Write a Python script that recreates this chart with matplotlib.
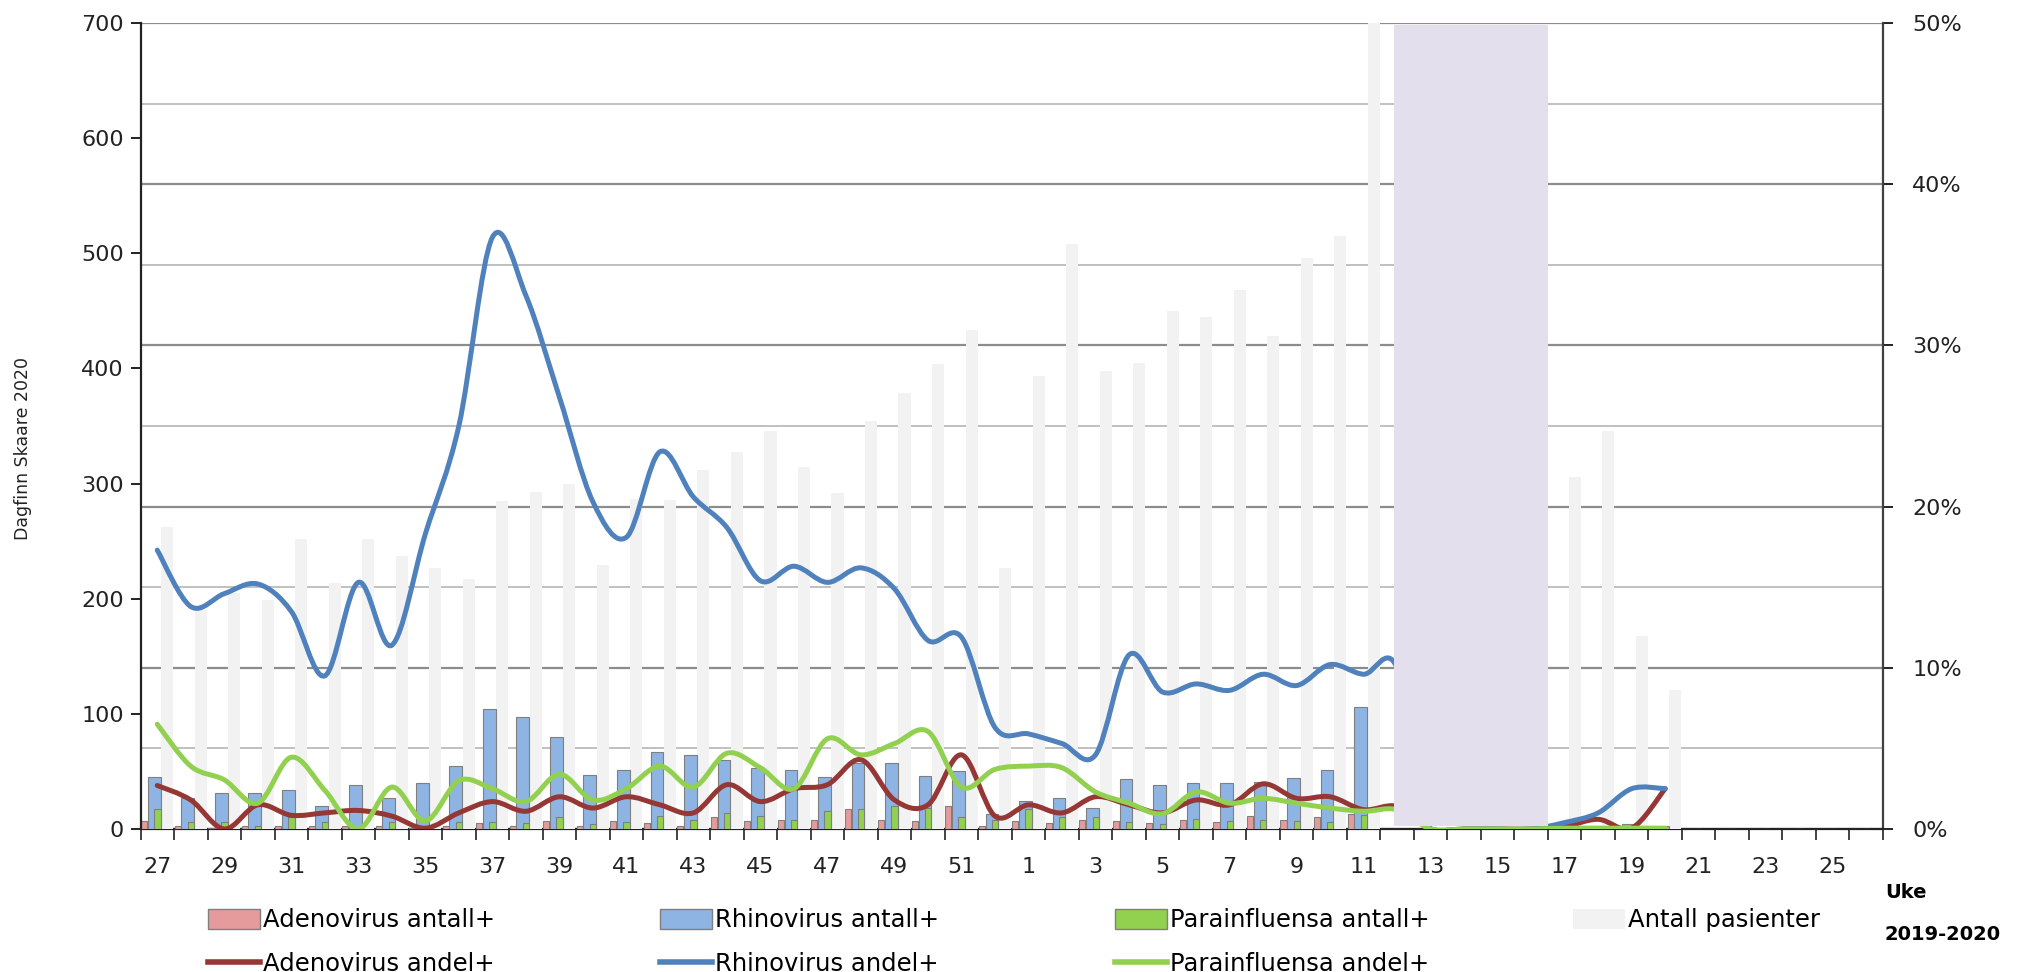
import numpy as np
import matplotlib
matplotlib.use("Agg")
import matplotlib.pyplot as plt
from matplotlib.path import Path
from matplotlib.patches import PathPatch, Patch
from matplotlib.lines import Line2D
from matplotlib.ticker import MultipleLocator, PercentFormatter

# uke 27 (2019) til uke 26 (2020)
uker = list(range(27, 53)) + list(range(1, 27))

adeno_antall = [7, 3, 1, 3, 3, 3, 3, 3, 1, 3, 5, 3, 7, 3, 7, 5, 3, 10, 7, 8, 8, 17, 8, 7, 20, 3,
                7, 5, 8, 7, 5, 8, 6, 11, 8, 10, 13, 0, 0, 0, 0, 0, 0, 2, 0, 3, 0, 0, 0, 0, 0, 0]
rhino_antall = [45, 27, 31, 31, 34, 20, 38, 27, 40, 55, 104, 97, 80, 47, 51, 67, 64, 60, 53, 51, 45, 57, 57, 46, 50, 13,
                24, 27, 18, 43, 38, 40, 40, 41, 44, 51, 106, 0, 0, 0, 0, 0, 1, 3, 4, 3, 0, 0, 0, 0, 0, 0]
para_antall = [17, 6, 6, 3, 10, 6, 1, 6, 0, 6, 6, 5, 10, 4, 6, 11, 8, 14, 11, 8, 16, 17, 20, 18, 10, 8,
               17, 10, 10, 6, 4, 9, 7, 8, 7, 6, 12, 0, 0, 0, 0, 0, 0, 0, 0, 0, 0, 0, 0, 0, 0, 0]
antall_pasienter = [262, 190, 205, 199, 252, 214, 252, 237, 227, 217, 285, 293, 300, 229, 287, 286, 312, 327, 346, 314,
                    292, 354, 379, 404, 433, 227, 393, 508, 398, 405, 450, 445, 468, 428, 496, 515, 760, 0,
                    0, 0, 0, 0, 306, 346, 168, 121, 0, 0, 0, 0, 0, 0]

nan = np.nan
adeno_andel = [2.7, 1.8, 0.0, 1.5, 0.85, 1.0, 1.15, 0.8, 0.05, 1.0, 1.7, 1.1, 2.0, 1.3, 2.0, 1.5, 1.0, 2.75, 1.7, 2.5,
               2.75, 4.3, 1.8, 1.5, 4.6, 0.8, 1.5, 1.0, 2.0, 1.5, 1.0, 1.8, 1.5, 2.8, 1.9, 2.0, 1.2, 1.4,
               0, 0, 0, 0, 0.15, 0.6, 0.05, 2.5, nan, nan, nan, nan, nan, nan]
rhino_andel = [17.3, 13.8, 14.6, 15.2, 13.5, 9.5, 15.3, 11.4, 18.3, 25.0, 36.7, 33.1, 26.8, 20.3, 18.1, 23.4, 20.6,
               18.7, 15.4, 16.3, 15.3, 16.2, 14.9, 11.7, 11.9, 6.3, 5.9, 5.3, 4.6, 10.8, 8.5, 9.0, 8.6, 9.6, 8.9,
               10.2, 9.6, 10.0, 0, 0, 0, 0, 0.4, 1.0, 2.5, 2.5, nan, nan, nan, nan, nan, nan]
para_andel = [6.5, 3.9, 3.05, 1.6, 4.45, 2.4, 0.0, 2.6, 0.5, 3.0, 2.5, 1.7, 3.4, 1.8, 2.5, 3.9, 2.6, 4.7, 3.8, 2.5,
              5.6, 4.6, 5.3, 6.05, 2.6, 3.7, 3.9, 3.8, 2.3, 1.6, 0.95, 2.3, 1.6, 1.9, 1.6, 1.3, 1.1, 1.2,
              0, 0, 0, 0, 0.05, 0.05, 0.05, 0.05, nan, nan, nan, nan, nan, nan]

# skravert periode (uke 12-16)
stengt_fra, stengt_til = 36.9, 41.5

c_adeno_bar, c_rhino_bar, c_para_bar, c_pas = "#E59B9B", "#8DB4E2", "#92D050", "#F2F2F2"
c_adeno, c_rhino, c_para = "#953735", "#4F81BD", "#92D050"
kant = "#7F7F7F"
tekst = "#222222"


def glatt_linje(ax, x, y, farge):
    # Excel-lignende glattet linje (Bezier gjennom punktene)
    y = np.asarray(y, dtype=float)
    ok = ~np.isnan(y)
    pts = np.column_stack([np.asarray(x, dtype=float)[ok], y[ok]])
    n = len(pts)
    verts = [pts[0]]
    codes = [Path.MOVETO]
    for i in range(n - 1):
        p0 = pts[i - 1] if i > 0 else pts[i]
        p1, p2 = pts[i], pts[i + 1]
        p3 = pts[i + 2] if i + 2 < n else pts[i + 1]
        verts += [p1 + (p2 - p0) / 6, p2 - (p3 - p1) / 6, p2]
        codes += [Path.CURVE4] * 3
    ax.add_patch(PathPatch(Path(verts, codes), fill=False, edgecolor=farge, lw=3.6,
                           capstyle="round", joinstyle="round", zorder=3))


fig = plt.figure(figsize=(20.38, 9.72), dpi=100)
pos = [140.5 / 2038, 143 / 972, 1742.5 / 2038, 806 / 972]
x = np.arange(len(uker))

# nederste akse: prosent-skala, rutenett og x-akse
ax_pct = fig.add_axes(pos)
ax = ax_pct.twinx()      # antall (venstre)
ax_l = ax_pct.twinx()    # andel-linjer

ax_pct.set_xlim(-0.5, 51.5)
ax_pct.set_ylim(0, 0.5)
ax_pct.yaxis.set_major_locator(MultipleLocator(0.1))
ax_pct.yaxis.set_minor_locator(MultipleLocator(0.05))
ax_pct.yaxis.set_major_formatter(PercentFormatter(1.0, decimals=0))
ax_pct.grid(True, axis="y", which="major", color="#8C8C8C", lw=1.6)
ax_pct.grid(True, axis="y", which="minor", color="#C0C0C0", lw=1.4)
ax_pct.set_xticks(x[::2])
ax_pct.set_xticklabels([str(u) for u in uker[::2]])
ax_pct.set_xticks(np.arange(-0.5, 52, 1), minor=True)
ax_pct.tick_params(axis="x", which="major", length=0, pad=20, labelsize=16, colors=tekst)
ax_pct.tick_params(axis="x", which="minor", direction="out", length=8, width=1.2, color=tekst)
for s in ["top", "left"]:
    ax_pct.spines[s].set_visible(False)
ax_pct.spines["right"].set_color("#404040")
ax_pct.spines["right"].set_linewidth(1.6)
ax_pct.spines["bottom"].set_color(tekst)
ax_pct.spines["bottom"].set_linewidth(1.6)

ax.patch.set_visible(False)
ax.set_ylim(0, 700)
ax.set_yticks(range(0, 701, 100))
for s in ["top", "right", "bottom"]:
    ax.spines[s].set_visible(False)
ax.spines["left"].set_color(tekst)
ax.spines["left"].set_linewidth(1.6)

ax.bar(x - 0.39, adeno_antall, width=0.18, color=c_adeno_bar, edgecolor=kant, lw=0.8, zorder=2)
ax.bar(x - 0.09, rhino_antall, width=0.38, color=c_rhino_bar, edgecolor=kant, lw=0.8, zorder=2)
ax.bar(x + 0.005, para_antall, width=0.19, color=c_para_bar, edgecolor=kant, lw=0.8, zorder=3)
ax.bar(x + 0.30, antall_pasienter, width=0.36, color=c_pas, lw=0, zorder=1)
ax.set_xlim(-0.5, 51.5)

ax_l.patch.set_visible(False)
ax_l.set_ylim(0, 0.5)
ax_l.set_xlim(-0.5, 51.5)
ax_l.axis("off")
glatt_linje(ax_l, x, np.array(adeno_andel) / 100, c_adeno)
glatt_linje(ax_l, x, np.array(rhino_andel) / 100, c_rhino)
glatt_linje(ax_l, x, np.array(para_andel) / 100, c_para)
ax_l.axvspan(stengt_fra, stengt_til, ymin=0.004, ymax=0.997, color="#E4DFEC", lw=0, zorder=5)

# y-akser settes til slutt (twinx flytter tickene)
ax_pct.yaxis.tick_right()
ax_pct.tick_params(axis="y", which="major", direction="out", length=7, width=1.4, pad=14,
                   labelsize=16, colors=tekst, right=True, left=False, labelright=True, labelleft=False)
ax_pct.tick_params(axis="y", which="minor", length=0)
ax.yaxis.tick_left()
ax.tick_params(axis="y", direction="out", length=7, width=1.4, pad=5, labelsize=16, colors=tekst,
               left=True, right=False, labelleft=True, labelright=False)

fig.text(23 / 2038, 1 - 448 / 972, "Dagfinn Skaare 2020", fontsize=12.5, rotation=90,
         ha="center", va="center", color=tekst)

# tegnforklaring: én kolonne per virus, faste posisjoner som i originalen
kolonner = [
    (208, [Patch(facecolor=c_adeno_bar, edgecolor=kant), Line2D([], [], color=c_adeno, lw=4)],
     ["Adenovirus antall+", "Adenovirus andel+"]),
    (660, [Patch(facecolor=c_rhino_bar, edgecolor=kant), Line2D([], [], color=c_rhino, lw=4)],
     ["Rhinovirus antall+", "Rhinovirus andel+"]),
    (1115, [Patch(facecolor=c_para_bar, edgecolor=kant), Line2D([], [], color=c_para, lw=4)],
     ["Parainfluensa antall+", "Parainfluensa andel+"]),
    (1573, [Patch(facecolor=c_pas, edgecolor="none")], ["Antall pasienter"]),
]
for xpix, h, lab in kolonner:
    fig.legend(h, lab, loc="upper left", bbox_to_anchor=(xpix / 2038, 1 - 908 / 972),
               frameon=False, fontsize=17.5, handlelength=2.15, handleheight=0.9, handletextpad=0.12,
               labelspacing=0.82, borderaxespad=0, borderpad=0)

fig.text(1885 / 2038, 1 - 892 / 972, "Uke", fontsize=14, fontweight="bold", ha="left", va="center")
fig.text(1885 / 2038, 1 - 934 / 972, "2019-2020", fontsize=14, fontweight="bold", ha="left", va="center")

fig.savefig("out.png", dpi=100)
